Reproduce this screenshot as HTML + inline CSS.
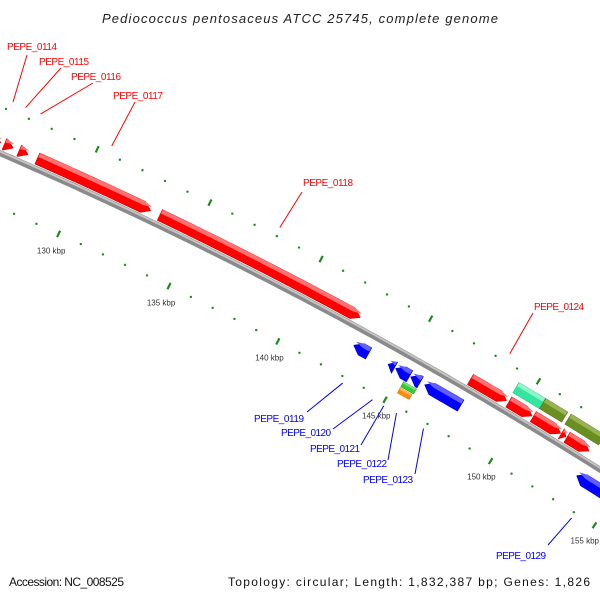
<!DOCTYPE html>
<html><head><meta charset="utf-8"><style>
html,body{margin:0;padding:0;background:#fff;}
svg{display:block;font-family:"Liberation Sans",sans-serif;}
</style></head><body>
<svg id="map" width="600" height="600" viewBox="0 0 600 600">
<rect width="600" height="600" fill="#fff"/>
<text x="300" y="23" text-anchor="middle" font-size="13" font-style="italic" fill="#222" textLength="396">Pediococcus pentosaceus ATCC 25745, complete genome</text>
<text x="9" y="586" font-size="12" fill="#111" textLength="115">Accession: NC_008525</text>
<text x="590" y="586" font-size="12" fill="#111" text-anchor="end" textLength="362">Topology: circular; Length: 1,832,387 bp; Genes: 1,826</text>
<g id="g-ticks"></g><g id="g-backbone"></g><g id="g-genes"></g><g id="g-labels"></g>
</svg>
<script>
// ---- data (kbp) ----
const tickStart = 124;
const tickEnd = 157;
const tickLabels = ["125 kbp","130 kbp","135 kbp","140 kbp","145 kbp","150 kbp","155 kbp"];
const tickLabelPos = [125,130,135,140,145,150,155];
const geneNames = ["PEPE_0114","PEPE_0115","PEPE_0116","PEPE_0117","PEPE_0118","PEPE_0124","g-r1","g-r2","g-r3",
  "PEPE_0119","PEPE_0120","PEPE_0121","PEPE_0122","PEPE_0123","PEPE_0129",
  "g-teal","g-olive1","g-olive2","g-green","g-orange"];
const geneStart = [125.95,126.5,127.15,127.95,133.4,147.6,149.4,150.55,152.15,
  142.8,144.4,144.75,145.45,146.1,153.3,
  149.35,150.6,151.8,145.3,145.3];
const geneEnd   = [126.35,126.9,127.55,133.0,142.5,149.3,150.5,151.85,153.2,
  143.5,144.7,145.4,145.9,147.8,154.8,
  150.6,151.65,153.4,145.9,145.85];
const geneStrand = [1,1,1,1,1,1,1,1,1,-1,-1,-1,-1,-1,-1,0,0,0,0,0];
const geneRing = ["f1","f1","f1","f1","f1","f1","f1","f1","f1","r1","r1","r1","r1","r1","r1","f2","f2","f2","r2","r3"];
const geneColor = ["red","red","red","red","red","red","red","red","red","blue","blue","blue","blue","blue","blue","teal","olive","olive","green","orange"];
const extraTriangle = [151.88,152.1];
const labelled = ["PEPE_0114","PEPE_0115","PEPE_0116","PEPE_0117","PEPE_0118","PEPE_0124","PEPE_0119","PEPE_0120","PEPE_0121","PEPE_0122","PEPE_0123","PEPE_0129"];

// ---- layout ----
const NS="http://www.w3.org/2000/svg";
const CX=-1741, CY=4181, R=4388;
const DEG0=-65.49, DPK=0.3225;
const rings={f1:[4,16],f2:[20,32],r1:[-24,-11],r2:[-31,-25],r3:[-38,-32]};
const palette={red:["#ff0000","#ff7070","#c80000"],blue:["#0000ff","#6060ff","#0000b0"],teal:["#33e6a0","#8ff5c8","#20b070"],
  olive:["#6b8e23","#96b450","#4a6515"],green:["#33cc33","#80e080","#208a20"],orange:["#ff8c00","#ffb860","#c06000"]};
const labelLayout={ // x, baseline, line start x,y
 "PEPE_0114":[7,50,27,55],"PEPE_0115":[39,65,61,68],"PEPE_0116":[71,80,93,83],"PEPE_0117":[113,99,135,102],
 "PEPE_0118":[303,186,302,192],"PEPE_0124":[534,310,533,313],"PEPE_0119":[254,422,307,412],"PEPE_0120":[281,436,333,429],
 "PEPE_0121":[310,452,361,445],"PEPE_0122":[337,467,388,460],"PEPE_0123":[363,483,415,474],"PEPE_0129":[496,559,548,545]};
function ang(k){return (DEG0+(k-130)*DPK)*Math.PI/180;}
function pt(k,off){const a=ang(k);return [CX+(R+off)*Math.cos(a),CY+(R+off)*Math.sin(a)];}
function mk(tag,attrs,parent){const e=document.createElementNS(NS,tag);for(const k in attrs)e.setAttribute(k,attrs[k]);parent.appendChild(e);return e;}
function arcPts(k1,k2,off){const n=Math.max(2,Math.ceil((k2-k1)*4));const a=[];for(let i=0;i<=n;i++)a.push(pt(k1+(k2-k1)*i/n,off));return a;}
function P(a){return a.map(p=>p[0].toFixed(1)+","+p[1].toFixed(1)).join(" ");}
function shape(k1,k2,r0,r1,strand){
  const head=Math.min(0.35,(k2-k1));const mid=(r0+r1)/2;
  if(strand===1){return [...arcPts(k1,k2-head,r1),pt(k2,mid),...arcPts(k1,k2-head,r0).reverse()];}
  if(strand===-1){return [pt(k1,mid),...arcPts(k1+head,k2,r1),...arcPts(k1+head,k2,r0).reverse()];}
  return [...arcPts(k1,k2,r1),...arcPts(k1,k2,r0).reverse()];
}
// ticks
const gT=document.getElementById('g-ticks');
for(let k=tickStart;k<=tickEnd;k++){
  const major=(k%5===0);
  for(const off of [43,-50]){
    let e;
    if(major){const a=pt(k,off-3.5),b=pt(k,off+3.5);
      e=mk('line',{x1:a[0],y1:a[1],x2:b[0],y2:b[1],stroke:"#1e8a1e","stroke-width":2.2},gT);}
    else{const c=pt(k,off);e=mk('circle',{cx:c[0],cy:c[1],r:1.2,fill:"#1e8a1e"},gT);}
    
    
  }
}
tickLabels.forEach((t,i)=>{
  const c=pt(tickLabelPos[i],-68);
  const e=mk('text',{x:c[0],y:c[1]+3,"text-anchor":"middle","font-size":8,fill:"#333"},gT);
  e.textContent=t;
  
  
});
// backbone
const gB=document.getElementById('g-backbone');
const bb=arcPts(120,160,0);
const bl=mk('polyline',{points:P(bb),fill:"none",stroke:"#8a8a8a","stroke-width":6},gB);


const bh=mk('polyline',{points:P(arcPts(120,160,1.5)),fill:"none",stroke:"#c4c4c4","stroke-width":2},gB);


// genes
const gG=document.getElementById('g-genes');
const geneMid={};
function drawGene(name,k1,k2,ring,strand,color){
  const [r0,r1]=rings[ring];const pal=palette[color];
  const g=mk('g',{},gG);
  
  
  mk('polygon',{points:P(shape(k1,k2,r0,r1,strand)),fill:pal[0],stroke:pal[2],"stroke-width":0.5},g);
  const h=(r1-r0);
  mk('polygon',{points:P(shape(k1+0.02,k2-0.02,r1-h*0.35,r1,strand)),fill:pal[1]},g);
}
geneNames.forEach((n,i)=>{
  drawGene(n,geneStart[i],geneEnd[i],geneRing[i],geneStrand[i],geneColor[i]);
  geneMid[n]=[(geneStart[i]+geneEnd[i])/2,geneStrand[i]];
});
drawGene("g-r-small",extraTriangle[0],extraTriangle[1],"f1",1,"red");
// labels
const gL=document.getElementById('g-labels');
labelled.forEach(n=>{
  const [k,s]=geneMid[n];const L=labelLayout[n];
  const end=pt(k,s>0?52:-56);
  const col=s>0?"#ff0000":"#0000ff";
  const ln=mk('line',{x1:L[2],y1:L[3],x2:end[0],y2:end[1],stroke:col,"stroke-width":1},gL);
  
  
  const t=mk('text',{x:L[0],y:L[1],"font-size":10,fill:col,textLength:50},gL);
  t.textContent=n;
  
  
});
</script>
</body></html>
